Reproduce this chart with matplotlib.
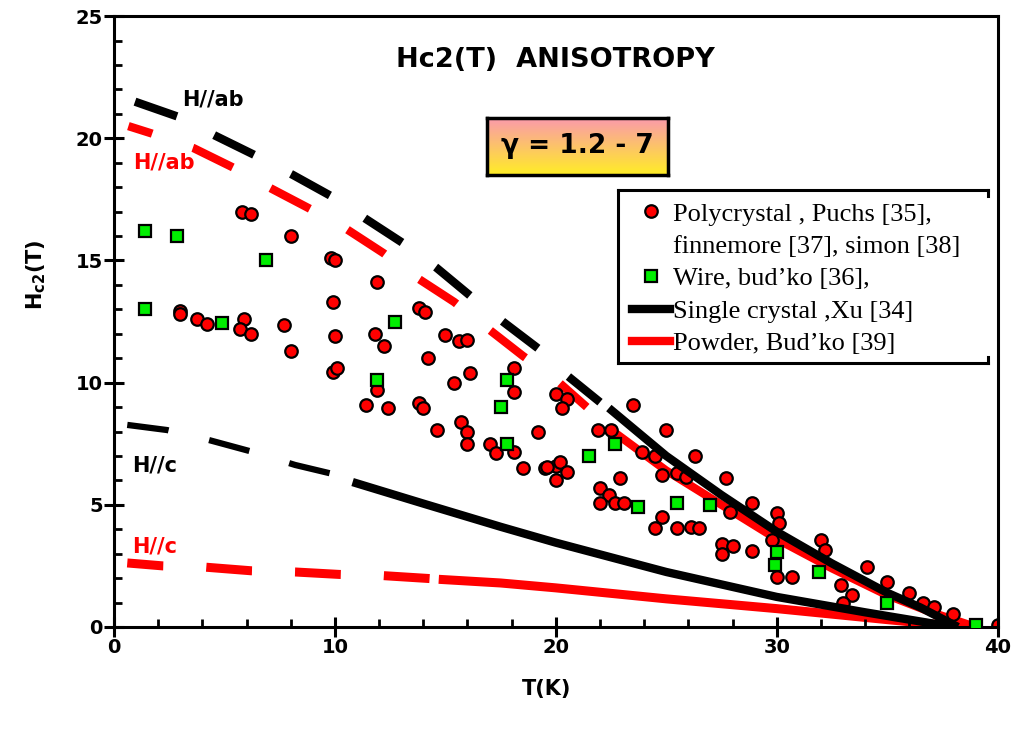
import numpy as np
import matplotlib
matplotlib.use('Agg')
from matplotlib import pyplot as plt
from matplotlib.lines import Line2D

#  -- datos: Hc2(T) MgB2 --
# Polycrystal (Puchs, finnemore, simon)
t_poly = [5.8, 6.2, 8.0, 9.8, 10.0, 9.9, 11.9, 13.8, 14.1, 3.0, 3.0, 3.75, 4.2, 5.9, 5.7, 6.2,
          7.7, 10.0, 11.8, 12.2, 15.0, 15.6, 16.0, 8.0,
          14.2, 9.9, 10.1, 11.9, 11.4, 12.4, 13.8, 14.0, 15.4, 16.1, 18.1, 18.1, 14.6, 15.7,
          16.0, 16.0, 17.0, 17.3, 18.1, 18.5, 19.2, 19.5, 20.0, 20.0,
          20.0, 20.5, 20.3, 23.5, 21.9, 22.5, 25.0, 26.3, 23.9, 24.5, 19.6, 20.2, 20.5, 22.9,
          22.0, 22.4, 22.0, 22.7, 23.1, 24.8, 25.5, 25.9, 27.7, 27.9, 28.9, 24.8, 24.5, 25.5,
          26.1, 26.5, 27.5, 27.5, 28.0, 28.9, 30.0, 30.1, 29.8,
          30.0, 30.7, 32.0, 32.2, 32.9, 33.4, 33.0, 34.1, 35.0, 36.0, 36.6, 37.1, 38.0, 40.0]
h_poly = [17.0, 16.9, 16.0, 15.1, 15.0, 13.3, 14.1, 13.05, 12.9, 12.95, 12.8, 12.6, 12.4, 12.6, 12.2, 12.0,
          12.35, 11.9, 12.0, 11.5, 11.95, 11.7, 11.75, 11.3,
          11.0, 10.45, 10.6, 9.7, 9.1, 8.95, 9.15, 8.95, 10.0, 10.4, 10.6, 9.6, 8.06, 8.4,
          8.0, 7.5, 7.5, 7.1, 7.15, 6.5, 8.0, 6.5, 6.6, 6.0,
          9.55, 9.35, 8.95, 9.1, 8.05, 8.05, 8.05, 7.0, 7.15, 7.0, 6.55, 6.75, 6.35, 6.1,
          5.7, 5.4, 5.07, 5.07, 5.07, 6.2, 6.3, 6.15, 6.1, 4.7, 5.07, 4.5, 4.05, 4.05,
          4.1, 4.05, 3.4, 3.0, 3.3, 3.1, 4.65, 4.25, 3.55,
          2.05, 2.05, 3.55, 3.15, 1.7, 1.3, 1.0, 2.45, 1.85, 1.4, 1.0, 0.8, 0.55, 0.1]

# Wire, bud'ko
t_wire = [1.4, 2.85, 6.9, 1.4, 4.9, 12.7, 11.9, 17.8, 17.5, 17.8, 22.7, 21.5, 23.7, 25.5, 27.0,
          30.0, 29.9, 31.9, 35.0, 39.0]
h_wire = [16.2, 16.0, 15.0, 13.0, 12.45, 12.5, 10.1, 10.1, 9.0, 7.5, 7.5, 7.0, 4.9, 5.07, 5.0,
          3.07, 2.55, 2.25, 1.0, 0.1]

# Single crystal, Xu : H//ab y H//c
t_ab_xu = [0.95, 2.85, 4.6, 6.4, 8.1, 9.9, 11.4, 13.1, 14.6, 16.2, 17.6, 19.2, 20.5, 22.0,
           22.4, 25.0, 27.5, 30.0, 32.5, 35.0, 36.5, 38.2]
h_ab_xu = [21.5, 20.9, 20.1, 19.3, 18.5, 17.6, 16.7, 15.7, 14.7, 13.5, 12.5, 11.4, 10.3, 9.2,
           8.96, 7.0, 5.4, 3.9, 2.6, 1.4, 0.8, 0.0]
t_c_xu = [0.6, 2.4, 4.3, 6.3, 8.2, 10.1, 10.8, 14.0, 17.5, 20.0, 25.0, 30.0, 34.0, 38.0]
h_c_xu = [8.27, 8.06, 7.65, 7.16, 6.63, 6.22, 5.93, 5.05, 4.1, 3.45, 2.25, 1.23, 0.6, 0.0]

# Powder, Bud'ko : H//ab y H//c
t_ab_pw = [0.65, 1.7, 3.6, 5.4, 7.0, 8.9, 10.5, 12.2, 13.7, 15.4, 16.8, 18.5, 19.9, 21.4,
           22.6, 25.0, 27.5, 30.0, 32.5, 35.0, 37.0, 39.0]
h_ab_pw = [20.5, 20.2, 19.6, 18.8, 18.0, 17.1, 16.3, 15.3, 14.3, 13.3, 12.3, 11.1, 10.2, 9.0,
           8.0, 6.4, 5.0, 3.6, 2.4, 1.3, 0.6, 0.0]
t_c_pw = [0.6, 2.2, 4.1, 6.2, 8.2, 10.2, 12.2, 14.3, 14.7, 17.5, 20.0, 25.0, 30.0, 35.0, 38.5]
h_c_pw = [2.62, 2.5, 2.45, 2.3, 2.25, 2.15, 2.1, 1.98, 1.95, 1.8, 1.6, 1.15, 0.75, 0.3, 0.0]

# temperatura donde la curva deja de ser a trazos
tcorte_ab_xu = 22.2
tcorte_c_xu = 10.5
tcorte_ab_pw = 22.0
tcorte_c_pw = 14.5

etiquetas = ['Polycrystal , Puchs [35],', 'finnemore [37], simon [38]', 'Wire, bud\u2019ko [36],',
             'Single crystal ,Xu [34]', 'Powder, Bud\u2019ko [39]']

plt.rcParams['lines.scale_dashes'] = False
plt.rcParams['font.family'] = 'DejaVu Sans'

fig = plt.figure(figsize=(10.18, 7.35), dpi=100)
ax = fig.add_axes([0.112, 0.147, 0.868, 0.831])

rojo = '#ff0000'
verde = '#00ee00'


def curva(t, h, tcorte, color, lw_dash, lw_solid, dashes, offset, z):
    t = np.array(t)
    h = np.array(h)
    m = t <= tcorte
    ax.plot(t[m], h[m], color=color, lw=lw_dash, linestyle=(offset, dashes),
            solid_capstyle='butt', dash_capstyle='butt', zorder=z)
    ax.plot(t[~m], h[~m], color=color, lw=lw_solid, solid_capstyle='butt', zorder=z)


curva(t_ab_pw, h_ab_pw, tcorte_ab_pw, rojo, 6, 6, (32, 31), 14, 1)
curva(t_c_pw, h_c_pw, tcorte_c_pw, rojo, 6.5, 6.5, (33, 31), 7, 1)
ax.plot(t_poly, h_poly, 'o', ms=9, mfc=rojo, mec='k', mew=1.6, zorder=2)
curva(t_ab_xu, h_ab_xu, tcorte_ab_xu, 'k', 6, 6, (32, 30), 0, 3)
curva(t_c_xu, h_c_xu, tcorte_c_xu, 'k', 4.5, 6, (30, 30), 0, 3)
ax.plot(t_wire, h_wire, 's', ms=9, mfc=verde, mec='k', mew=1.6, zorder=4)

ax.set_xlim(0, 40)
ax.set_ylim(0, 25)
ax.set_xticks(np.arange(0, 41, 10))
ax.set_xticks(np.arange(0, 41, 2), minor=True)
ax.set_yticks(np.arange(0, 26, 5))
ax.set_yticks(np.arange(0, 26, 1), minor=True)
ax.tick_params(which='major', direction='inout', length=14, width=2.2, labelsize=14, pad=1)
ax.tick_params(which='minor', direction='in', length=6, width=2)
ax.tick_params(top=False, right=False, which='both')
for lab in ax.get_xticklabels() + ax.get_yticklabels():
    lab.set_fontweight('bold')
for s in ax.spines.values():
    s.set_linewidth(2.2)

ax.set_xlabel('T(K)', fontsize=15, fontweight='bold')
ax.xaxis.set_label_coords(0.49, -0.085)
ax.set_ylabel(r'$\mathbf{H_{c2}}$(T)', fontsize=15, fontweight='bold')
ax.yaxis.set_label_coords(-0.075, 0.576)

# etiquetas de las curvas
ax.text(3.1, 21.6, 'H//ab', color='k', fontsize=15, fontweight='bold', va='center')
ax.text(0.85, 19.0, 'H//ab', color=rojo, fontsize=15, fontweight='bold', va='center')
ax.text(0.8, 6.6, 'H//c', color='k', fontsize=15, fontweight='bold', va='center')
ax.text(0.8, 3.3, 'H//c', color=rojo, fontsize=15, fontweight='bold', va='center')
ax.text(0.5, 0.928, 'Hc2(T)  ANISOTROPY', transform=ax.transAxes, ha='center', va='center',
        fontsize=19.5, fontweight='bold')

# cuadro gamma con degradado
axg = fig.add_axes([0.478, 0.762, 0.178, 0.0776])
c1 = np.array([0.98, 0.60, 0.68])
c2 = np.array([1.0, 0.93, 0.15])
f = np.linspace(0, 1, 64)[:, None, None]
grad = c1 * (1 - f) + c2 * f
axg.imshow(grad, aspect='auto', extent=[0, 1, 0, 1], origin='upper')
axg.set_xticks([])
axg.set_yticks([])
for s in axg.spines.values():
    s.set_linewidth(2.5)
axg.text(0.5, 0.5, '\u03b3 = 1.2 - 7', ha='center', va='center', fontsize=19, fontweight='bold')

# leyenda
handles = [Line2D([], [], ls='none', marker='o', ms=9, mfc=rojo, mec='k', mew=1.6),
           Line2D([], [], ls='none'),
           Line2D([], [], ls='none', marker='s', ms=9, mfc=verde, mec='k', mew=1.6),
           Line2D([], [], color='k', lw=6),
           Line2D([], [], color=rojo, lw=6)]
leg = ax.legend(handles, etiquetas, loc='upper left', bbox_to_anchor=(0.586, 0.6956),
                frameon=False, prop={'family': 'Liberation Serif', 'size': 19},
                handlelength=1.45, handletextpad=0.12, labelspacing=0.34, borderpad=0,
                borderaxespad=0)
kw = dict(transform=ax.transAxes, color='k', lw=2.2, clip_on=False, solid_capstyle='projecting')
ax.add_line(Line2D([0.570, 0.989], [0.715, 0.715], **kw))
ax.add_line(Line2D([0.570, 0.570], [0.715, 0.432], **kw))
ax.add_line(Line2D([0.570, 0.989], [0.432, 0.432], **kw))
ax.add_line(Line2D([0.989, 0.989], [0.715, 0.705], **kw))
ax.add_line(Line2D([0.989, 0.989], [0.432, 0.442], **kw))

fig.savefig('out.png', dpi=100)
